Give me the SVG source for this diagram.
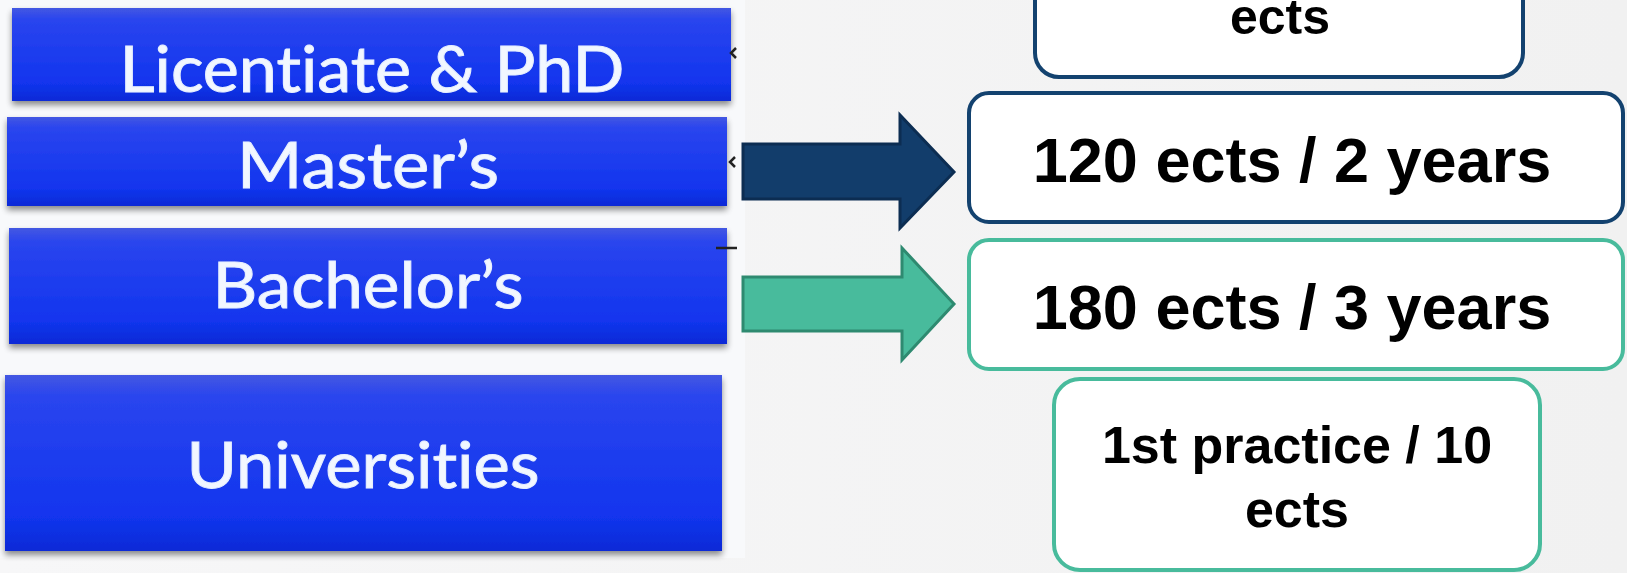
<svg xmlns="http://www.w3.org/2000/svg" width="1627" height="573" viewBox="0 0 1627 573">
  <defs>
    <linearGradient id="bg" x1="0" y1="0" x2="1" y2="0">
      <stop offset="0" stop-color="#f7f7f8"/>
      <stop offset="1" stop-color="#f1f1f1"/>
    </linearGradient>
    <linearGradient id="blue" x1="0" y1="0" x2="0" y2="1">
      <stop offset="0" stop-color="#4458e2"/>
      <stop offset="0.12" stop-color="#2a45ee"/>
      <stop offset="0.8" stop-color="#1235ee"/>
      <stop offset="1" stop-color="#0c2ad6"/>
    </linearGradient>
    <filter id="shadow" x="-5%" y="-10%" width="110%" height="130%">
      <feGaussianBlur in="SourceAlpha" stdDeviation="3"/>
      <feOffset dx="0" dy="4" result="b"/>
      <feComponentTransfer><feFuncA type="linear" slope="0.45"/></feComponentTransfer>
      <feMerge><feMergeNode/><feMergeNode in="SourceGraphic"/></feMerge>
    </filter>
  </defs>
  <style>
    .lvl { fill: url(#blue); filter: url(#shadow); }
    .lt { font-family: Lato, "Open Sans", sans-serif; font-size: 63px; fill: #f2f7ff; stroke: #e6efff; stroke-width: 1; text-anchor: middle; font-variant-ligatures: none; }
    .box { fill: #ffffff; stroke-width: 4; }
    .dark { stroke: #13426f; }
    .teal { stroke: #48bb9c; }
    .bt { font-family: "Liberation Sans", Arial, sans-serif; font-weight: bold; fill: #000000; text-anchor: middle; }
    .tick { fill: none; stroke: #222222; stroke-width: 2.5; }
  </style>

  <rect x="0" y="0" width="1627" height="573" fill="url(#bg)"/>
  <rect x="0" y="0" width="745" height="558" fill="#f8f9fb"/>

  <g id="licentiate">
    <rect class="lvl" x="12" y="8" width="719" height="93"/>
    <text class="lt" x="372" y="92" textLength="505" lengthAdjust="spacingAndGlyphs">Licentiate &amp; PhD</text>
  </g>
  <g id="masters">
    <rect class="lvl" x="7" y="117" width="720" height="89"/>
    <text class="lt" x="368" y="188" textLength="262" lengthAdjust="spacingAndGlyphs">Master’s</text>
  </g>
  <g id="bachelors">
    <rect class="lvl" x="9" y="228" width="718" height="116"/>
    <text class="lt" x="368" y="308" textLength="311" lengthAdjust="spacingAndGlyphs">Bachelor’s</text>
  </g>
  <g id="universities">
    <rect class="lvl" x="5" y="375" width="717" height="176"/>
    <text class="lt" x="363" y="488" textLength="353" lengthAdjust="spacingAndGlyphs">Universities</text>
  </g>

  <g id="marks">
    <path class="tick" d="M736 48 L731 53 L736 58"/>
    <path class="tick" d="M735 157 L730 162 L735 167"/>
    <path class="tick" d="M716 248 L737 248"/>
  </g>

  <g id="connectors">
    <path d="M743 144 L900 144 L900 115 L954 172 L900 228 L900 199 L743 199 Z" fill="#123d6b" stroke="#0c2d52" stroke-width="3" stroke-linejoin="miter"/>
    <path d="M743 277 L902 277 L902 248 L954 304 L902 360 L902 331 L743 331 Z" fill="#48bb9c" stroke="#2e8a70" stroke-width="3" stroke-linejoin="miter"/>
  </g>

  <g id="phd-box">
    <rect class="box dark" x="1035" y="-40" width="488" height="117" rx="24"/>
    <text class="bt" x="1280" y="34" font-size="50">ects</text>
  </g>
  <g id="master-box">
    <rect class="box dark" x="969" y="93" width="654" height="129" rx="20"/>
    <text class="bt" x="1292" y="182" font-size="63">120 ects / 2 years</text>
  </g>
  <g id="bachelor-box">
    <rect class="box teal" x="969" y="240" width="654" height="129" rx="20"/>
    <text class="bt" x="1292" y="329" font-size="63">180 ects / 3 years</text>
  </g>
  <g id="practice-box">
    <rect class="box teal" x="1054" y="379" width="486" height="191" rx="26"/>
    <text class="bt" x="1297" y="463" font-size="52">1st practice / 10</text>
    <text class="bt" x="1297" y="527" font-size="52">ects</text>
  </g>
</svg>
